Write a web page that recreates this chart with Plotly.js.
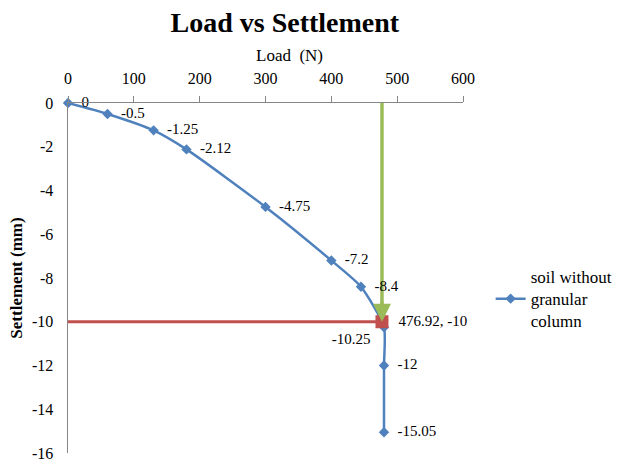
<!DOCTYPE html>
<html><head><meta charset="utf-8">
<script src="https://cdn.plot.ly/plotly-3.0.1.min.js"></script>
<style>html,body{margin:0;padding:0;background:#fff}#chart{width:635px;height:464px}</style>
</head><body><div id="chart"></div>
<script>
var seriesName = "soil without<br>granular<br>column";
var load = [0, 60, 130, 180, 300, 400, 445, 480, 480, 480];
var settlement = [0, -0.5, -1.25, -2.12, -4.75, -7.2, -8.4, -10.25, -12, -15.05];
var pointLabels = ["0", "-0.5", "-1.25", "-2.12", "-4.75", "-7.2", "-8.4", "-10.25", "-12", "-15.05"];
var labelPositions = ["middle right","middle right","middle right","middle right","middle right","middle right","middle right","bottom left","middle right","middle right"];
var markLoad = [476.92];
var markSettlement = [-10];
var markLabel = ["476.92, -10"];
var redLineX = [0, 476.92], redLineY = [-10, -10];
var greenLineX = [476.92, 476.92], greenLineY = [0, -9.6];
var xTicks = [0, 100, 200, 300, 400, 500, 600];
var yTicks = [0, -2, -4, -6, -8, -10, -12, -14, -16];

var serif = "Times New Roman, Liberation Serif, DejaVu Serif, serif";
var traces = [
  {x: redLineX, y: redLineY, mode: "lines", line: {color: "#C0504D", width: 3}, showlegend: false, hoverinfo: "skip"},
  {x: greenLineX, y: greenLineY, mode: "lines", line: {color: "#9BBB59", width: 3.5}, showlegend: false, hoverinfo: "skip"},
  {x: load, y: settlement, mode: "lines+markers+text", name: seriesName, cliponaxis: false,
   line: {color: "#4F81BD", width: 2.5, shape: "spline", smoothing: 0.6},
   marker: {symbol: "diamond", size: 8, color: "#4F81BD"},
   text: pointLabels, texttemplate: "  %{text}  ", textposition: labelPositions, textfont: {family: serif, size: 15, color: "#000"}},
  {x: markLoad, y: markSettlement, mode: "markers+text", showlegend: false, cliponaxis: false,
   marker: {symbol: "square", size: 13, color: "#C0504D"},
   text: markLabel, texttemplate: "  %{text}", textposition: "middle right", textfont: {family: serif, size: 15, color: "#000"}}
];
var layout = {
  width: 635, height: 464,
  margin: {l: 68, r: 172, t: 103, b: 11},
  paper_bgcolor: "#fff", plot_bgcolor: "#fff",
  font: {family: serif, color: "#000"},
  title: {text: "<b>Load vs Settlement</b>", font: {family: serif, size: 28, color: "#000"}, x: 0.549, xref: "paper", xanchor: "center", y: 0.953, yref: "container", yanchor: "middle"},
  xaxis: {side: "top", range: [0, 600], tickvals: xTicks, ticktext: xTicks.map(String), showgrid: false, zeroline: false,
    showline: true, linecolor: "#868686", linewidth: 1.5, ticks: "outside", ticklen: 6, tickcolor: "#868686", ticklabelstandoff: 5,
    tickfont: {family: serif, size: 16, color: "#000"}},
  yaxis: {range: [-16, 0], tickvals: yTicks, ticktext: yTicks.map(String), showgrid: false, zeroline: false,
    showline: true, linecolor: "#868686", linewidth: 1.5, ticks: "", ticklabelstandoff: 10,
    tickfont: {family: serif, size: 16, color: "#000"},
    title: {text: "<b>Settlement (mm)</b>", font: {family: serif, size: 17, color: "#000"}, standoff: 5}},
  legend: {x: 1.07, xanchor: "left", y: 0.44, yanchor: "middle", font: {family: serif, size: 17, color: "#000"}, bgcolor: "rgba(0,0,0,0)"},
  annotations: [
    {x: 476.92, y: -10, ax: 476.92, ay: -9, axref: "x", ayref: "y", xref: "x", yref: "y",
     showarrow: true, arrowhead: 2, arrowsize: 1.2, arrowwidth: 3, arrowcolor: "#9BBB59", text: ""},
    {text: "Load  (N)", xref: "paper", yref: "paper", x: 0.562, y: 1.137, xanchor: "center", yanchor: "middle",
     showarrow: false, font: {family: serif, size: 17, color: "#000"}}
  ]
};
Plotly.newPlot("chart", traces, layout, {displayModeBar: false, staticPlot: true});
</script></body></html>
